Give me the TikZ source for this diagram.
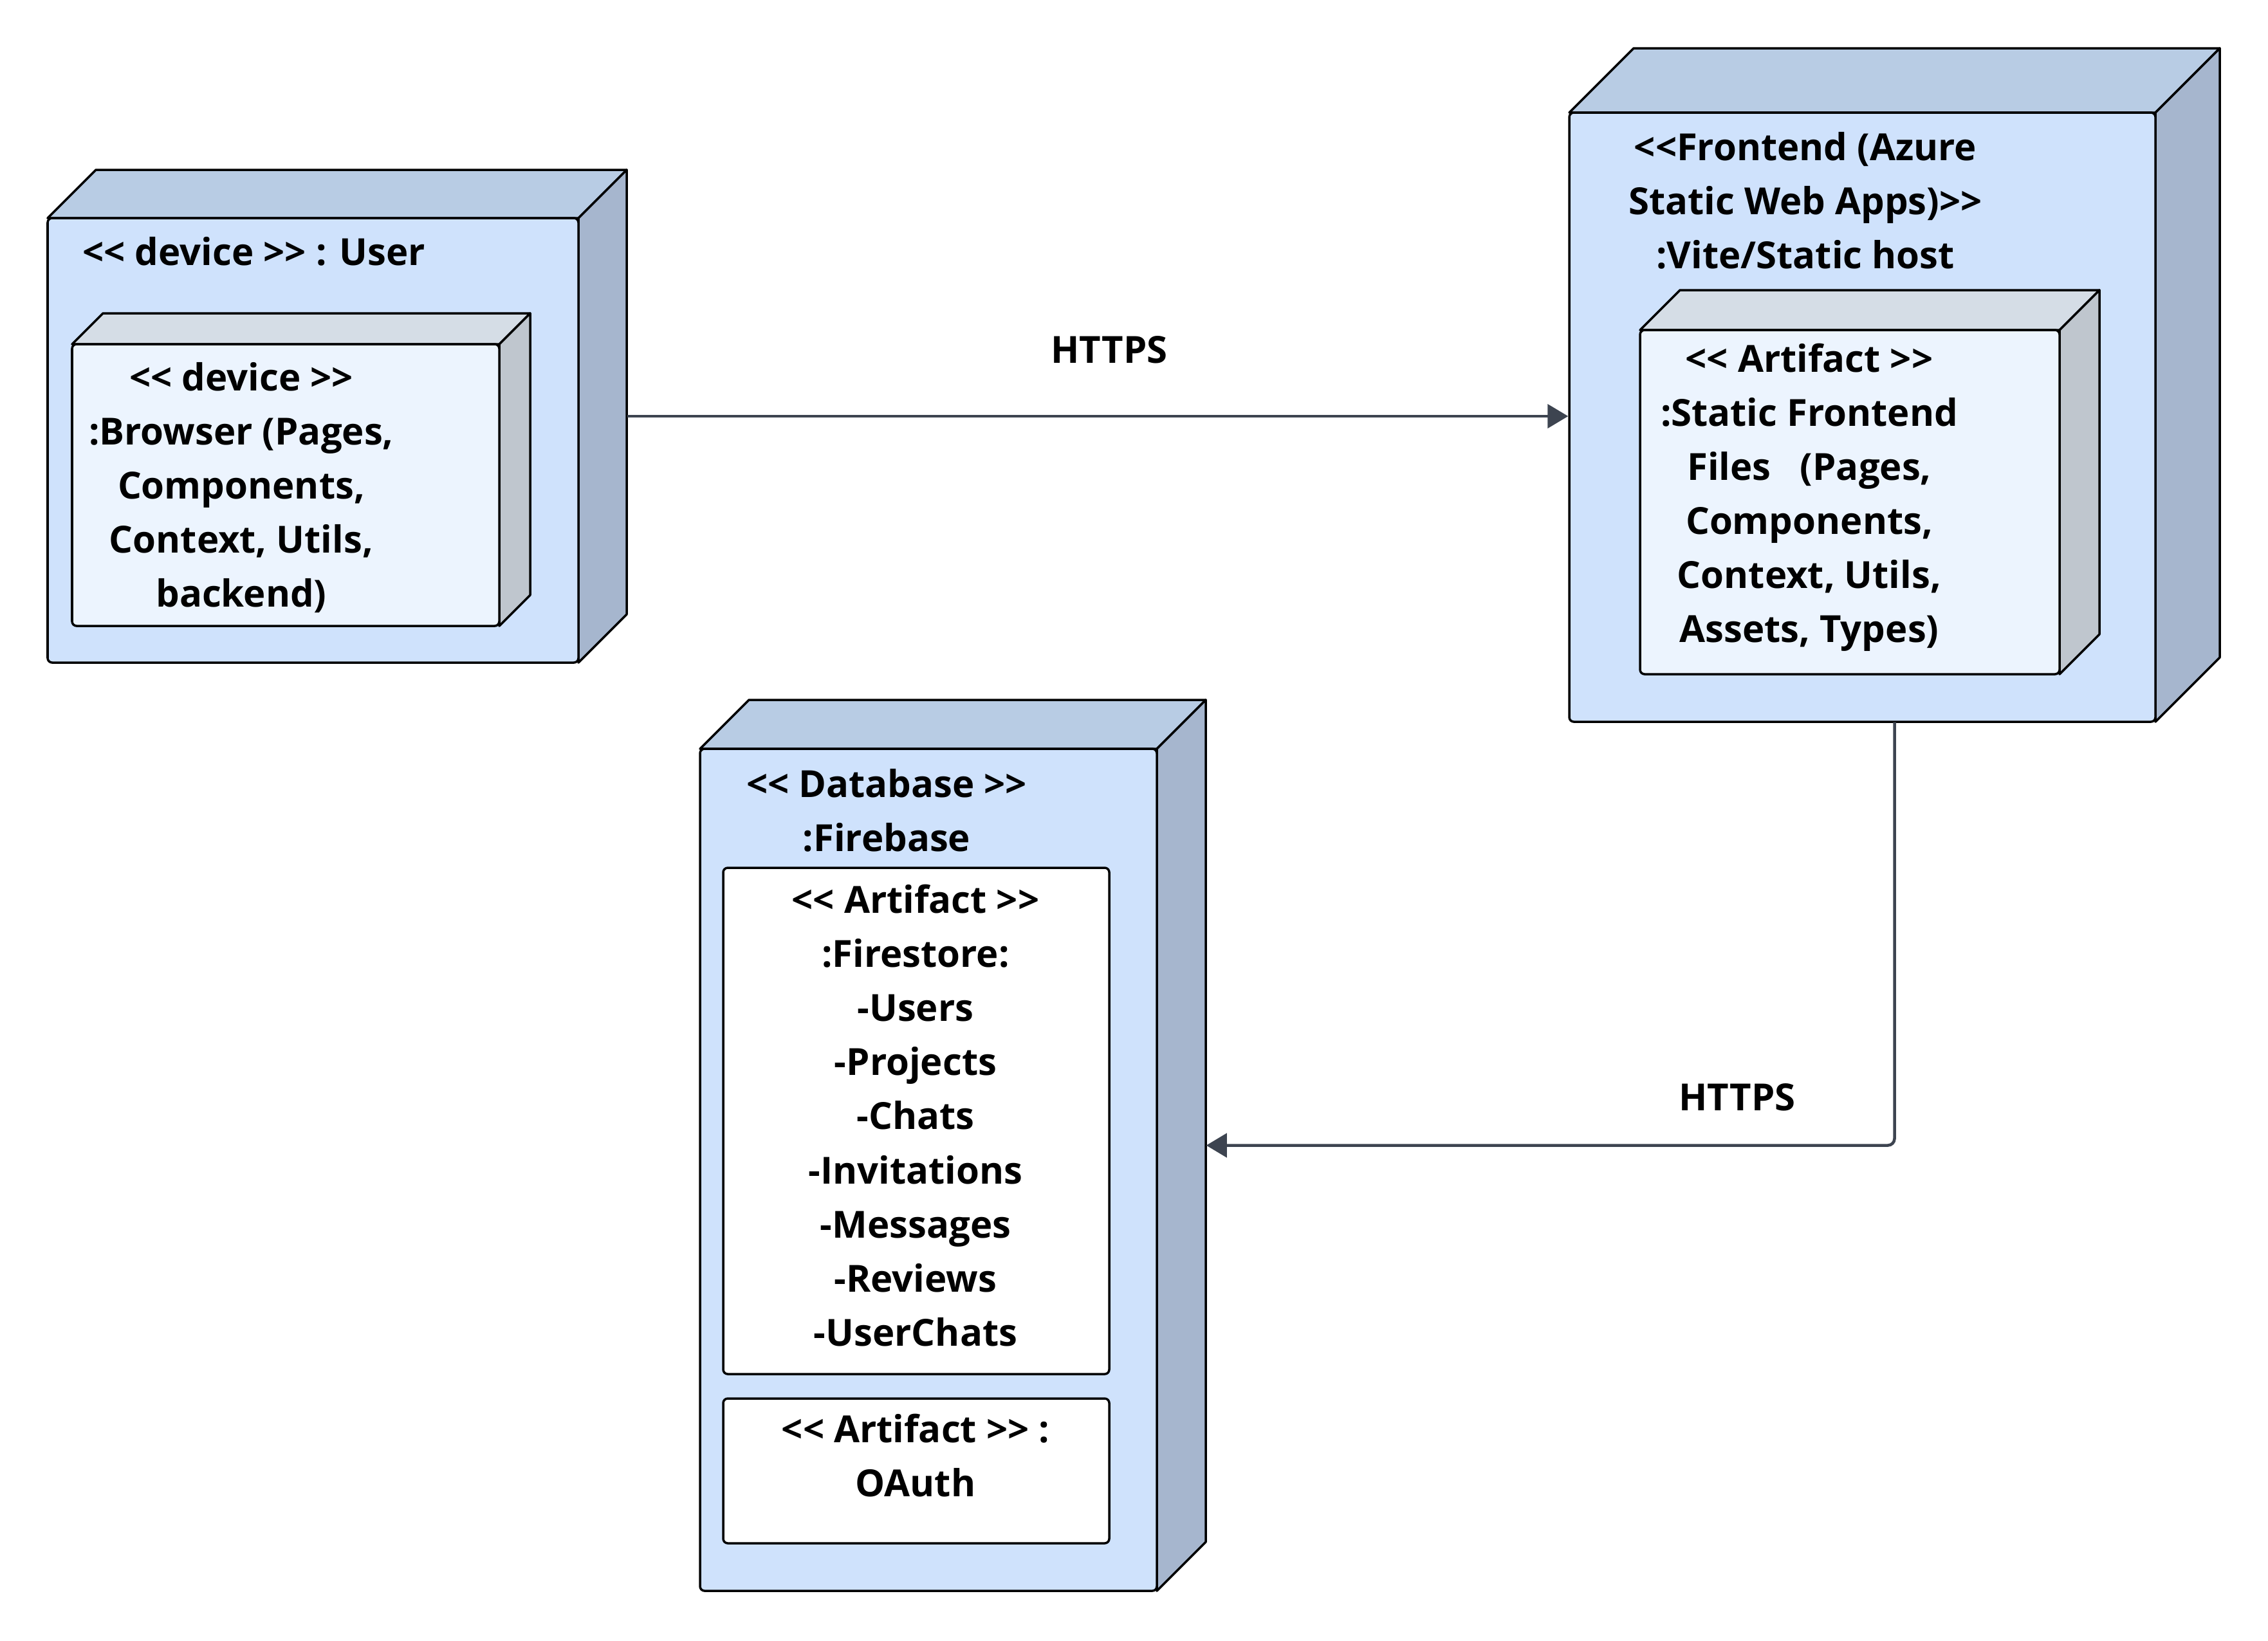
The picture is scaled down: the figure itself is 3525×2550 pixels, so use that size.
\documentclass[tikz,border=0pt]{standalone}
\usepackage{fontspec}
\setmainfont{Open Sans}[Ligatures=TeXOff]
\usetikzlibrary{arrows.meta,fit}
\definecolor{mainfront}{HTML}{CFE2FC}
\definecolor{maintop}{HTML}{B8CCE4}
\definecolor{mainside}{HTML}{A6B6CE}
\definecolor{innerfront}{HTML}{ECF4FE}
\definecolor{innertop}{HTML}{D5DDE6}
\definecolor{innerside}{HTML}{BFC6CE}
\definecolor{connc}{HTML}{3D4450}
\tikzset{
  boxline/.style={draw=black, line width=1pt, line join=round},
  txt/.style={inner sep=0pt, align=center, font=\fontsize{16.5}{23.9}\selectfont\bfseries},
  conn/.style={draw=connc, line width=1.3pt, rounded corners=3pt, -{Triangle[length=0.32cm,width=0.37cm]}},
}
% name, x1, y1, x2, y2, depth, front, top, side
\newcommand{\threedbox}[9]{%
  \filldraw[boxline, fill=#8] (#2,#3) -- (#2+#6,#3-#6) -- (#4+#6,#3-#6) -- (#4,#3) -- cycle;
  \filldraw[boxline, fill=#9] (#4,#3) -- (#4+#6,#3-#6) -- (#4+#6,#5-#6) -- (#4,#5) -- cycle;
  \node[boxline, fill=#7, fit={(#2,#3) (#4,#5)}, inner sep=0pt, rounded corners=2pt] (#1) {};
  \node[inner sep=0pt, fit={(#2,#3-#6) (#4+#6,#5)}] (#1bb) {};
}
\begin{document}
\begin{tikzpicture}[x=0.01cm,y=-0.01cm]
\useasboundingbox[fill=white] (0,0) rectangle (3525,2550);

% User device
\threedbox{user}{74}{339}{899}{1030}{75}{mainfront}{maintop}{mainside}
\node[txt, anchor=west] (usertitle) at (128,391) {<< device >> : User};
\threedbox{browser}{112}{535}{776}{973}{48}{innerfront}{innertop}{innerside}
\node[txt] (browsertxt) at (375,758) {<< device >>\\:Browser (Pages,\\Components,\\Context, Utils,\\backend)};

% Frontend
\threedbox{fe}{2439}{175}{3350}{1122}{100}{mainfront}{maintop}{mainside}
\node[txt] (fetitle) at (2806,312) {<<Frontend (Azure\\Static Web Apps)>>\\:Vite/Static host};
\threedbox{art}{2549}{513}{3201}{1048}{62}{innerfront}{innertop}{innerside}
\node[txt] (arttxt) at (2812,773) {<< Artifact >>\\:Static Frontend\\Files\ \ \ (Pages,\\Components,\\Context, Utils,\\Assets, Types)};

% Database
\threedbox{db}{1088}{1164}{1798}{2473}{76}{mainfront}{maintop}{mainside}
\node[txt] (dbtitle) at (1378,1260) {<< Database >>\\:Firebase};
\node[boxline, fill=white, fit={(1124,1349) (1724,2136)}, inner sep=0pt, rounded corners=2pt] (firestore) {};
\node[txt] (firetxt) at (1423,1734) {<< Artifact >>\\:Firestore:\\-Users\\-Projects\\-Chats\\-Invitations\\-Messages\\-Reviews\\-UserChats};
\node[boxline, fill=white, fit={(1124,2174) (1724,2399)}, inner sep=0pt, rounded corners=2pt] (oauth) {};
\node[txt] (oauthtxt) at (1423,2263) {<< Artifact >> :\\OAuth};

% Connectors
\draw[conn] (userbb.east) -- (userbb.east -| fe.west);
\node[txt] (https1) at (1724,544) {HTTPS};
\draw[conn] (febb.south) |- (dbbb.east);
\node[txt] (https2) at (2700,1706) {HTTPS};
\end{tikzpicture}
\end{document}
